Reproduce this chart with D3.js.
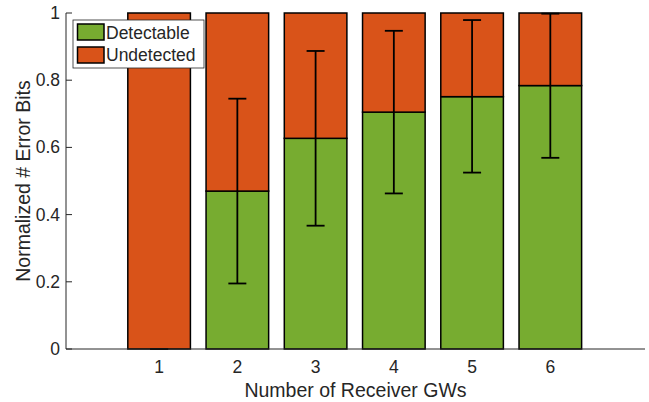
<!DOCTYPE html>
<html>
<head>
<meta charset="utf-8">
<script src="https://cdn.jsdelivr.net/npm/d3@7"></script>
<style>
  html, body { margin: 0; padding: 0; background: #fff; }
  svg { display: block; }
  text { font-family: "Liberation Sans", Arial, Helvetica, sans-serif; fill: #262626; }
</style>
</head>
<body>
<svg id="chart" width="649" height="402"></svg>
<script>
const categories = [1, 2, 3, 4, 5, 6];
const detectable = [0, 0.470, 0.627, 0.705, 0.751, 0.784];
const undetected = [1, 0.530, 0.373, 0.295, 0.249, 0.216];
const errLow  = [0, 0.195, 0.367, 0.463, 0.525, 0.569];
const errHigh = [0, 0.745, 0.887, 0.947, 0.979, 0.998];
const yTicks = [0, 0.2, 0.4, 0.6, 0.8, 1];
const yTickLabels = ["0", "0.2", "0.4", "0.6", "0.8", "1"];
const seriesNames = ["Detectable", "Undetected"];
const seriesColors = ["#77AC30", "#D95319"];
const xLabel = "Number of Receiver GWs";
const yLabel = "Normalized # Error Bits";

const svg = d3.select("#chart");
const x = d3.scaleLinear().domain([-0.19, 7.21]).range([66, 645]);
const y = d3.scaleLinear().domain([0, 1]).range([349, 13]);
const barW = 0.8;
const axisColor = "#262626";

const rows = categories.map((c, i) => ({ cat: c, Detectable: detectable[i], Undetected: undetected[i] }));
const stacked = d3.stack().keys(seriesNames)(rows);

// x ticks (inward, drawn under bars)
svg.append("g").selectAll("line").data(categories).join("line")
  .attr("x1", d => x(d)).attr("x2", d => x(d))
  .attr("y1", y(0)).attr("y2", y(0) - 6)
  .attr("stroke", axisColor).attr("stroke-width", 0.8);

// bars
stacked.forEach((s, si) => {
  svg.append("g").selectAll("rect").data(s).join("rect")
    .attr("x", d => x(d.data.cat - barW / 2))
    .attr("width", d => x(d.data.cat + barW / 2) - x(d.data.cat - barW / 2))
    .attr("y", d => y(d[1]))
    .attr("height", d => y(d[0]) - y(d[1]))
    .attr("fill", seriesColors[si])
    .attr("stroke", "#000")
    .attr("stroke-width", 1.5);
});

// error bars
const capHalf = 0.115;
const eg = svg.append("g").attr("stroke", "#000").attr("stroke-width", 1.8);
categories.forEach((c, i) => {
  eg.append("line").attr("x1", x(c)).attr("x2", x(c)).attr("y1", y(errLow[i])).attr("y2", y(errHigh[i]));
  eg.append("line").attr("x1", x(c - capHalf)).attr("x2", x(c + capHalf)).attr("y1", y(errLow[i])).attr("y2", y(errLow[i]));
  eg.append("line").attr("x1", x(c - capHalf)).attr("x2", x(c + capHalf)).attr("y1", y(errHigh[i])).attr("y2", y(errHigh[i]));
});

// axes lines
svg.append("line").attr("x1", x.range()[0]).attr("x2", x.range()[1])
  .attr("y1", y(0)).attr("y2", y(0)).attr("stroke", axisColor).attr("stroke-width", 1);
svg.append("line").attr("x1", x.range()[0]).attr("x2", x.range()[0])
  .attr("y1", y(0)).attr("y2", y(1)).attr("stroke", axisColor).attr("stroke-width", 1);

// y ticks inward
svg.append("g").selectAll("line").data(yTicks).join("line")
  .attr("x1", x.range()[0]).attr("x2", x.range()[0] + 6)
  .attr("y1", d => y(d)).attr("y2", d => y(d))
  .attr("stroke", axisColor).attr("stroke-width", 1);

svg.append("g").selectAll("text").data(yTicks).join("text")
  .attr("x", 60).attr("y", d => y(d) + 6)
  .attr("text-anchor", "end").attr("font-size", 17.5)
  .text((d, i) => yTickLabels[i]);

svg.append("g").selectAll("text").data(categories).join("text")
  .attr("x", d => x(d)).attr("y", 373)
  .attr("text-anchor", "middle").attr("font-size", 17.5)
  .text(d => d);

svg.append("text").attr("x", (x.range()[0] + x.range()[1]) / 2 - 0).attr("y", 397)
  .attr("text-anchor", "middle").attr("font-size", 19.5).text(xLabel);

svg.append("text").attr("transform", `translate(30,${(y(0) + y(1)) / 2}) rotate(-90)`)
  .attr("text-anchor", "middle").attr("font-size", 19.5).text(yLabel);

// legend
const lg = svg.append("g");
lg.append("rect").attr("x", 73).attr("y", 20).attr("width", 131).attr("height", 48)
  .attr("fill", "#fff").attr("stroke", "#262626").attr("stroke-width", 0.8);
seriesNames.forEach((n, i) => {
  lg.append("rect").attr("x", 77.5).attr("y", 24 + i * 23).attr("width", 26.5).attr("height", 16)
    .attr("fill", seriesColors[i]).attr("stroke", "#000").attr("stroke-width", 1.5);
  lg.append("text").attr("x", 106).attr("y", 39 + i * 22)
    .attr("font-size", 17.5).text(n);
});
</script>
</body>
</html>
